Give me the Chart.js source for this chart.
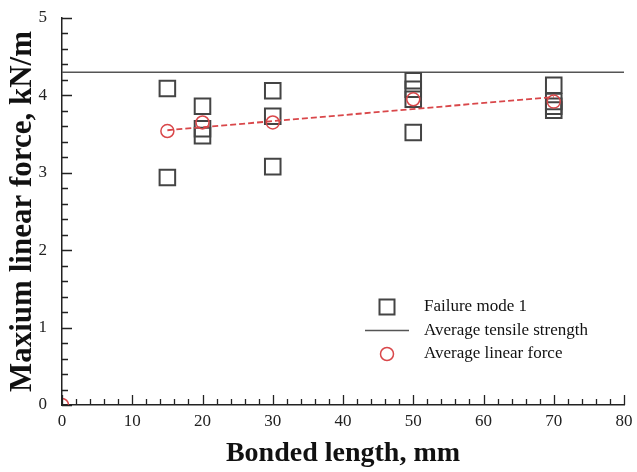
<!DOCTYPE html>
<html>
<head>
<meta charset="utf-8">
<script src="https://cdn.jsdelivr.net/npm/chart.js@4"></script>
<style>
    html, body { margin: 0; padding: 0; background: #fff; }
    #wrap { width: 637px; height: 472px; }
</style>
</head>
<body>
<div id="wrap"><canvas id="chart"></canvas></div>
<script>
// Data
const mode1X = [15, 15, 20, 20, 20, 30, 30, 30, 50, 50, 50, 50, 70, 70, 70, 70];
const mode1Y = [4.09, 2.94, 3.86, 3.57, 3.48, 4.06, 3.73, 3.08, 4.19, 4.08, 3.95, 3.52, 4.13, 3.92, 3.86, 3.81];
const avgX = [0, 15, 20, 30, 50, 70];
const avgY = [0, 3.54, 3.65, 3.65, 3.95, 3.92];
const fitX = [15, 70];
const fitY = [3.55, 3.98];
const tensileX = [0, 80];
const tensileY = [4.3, 4.3];
const xTicks = [0, 10, 20, 30, 40, 50, 60, 70, 80];
const yTicks = [0, 1, 2, 3, 4, 5];

const SERIF = "'Liberation Serif', 'Times New Roman', serif";
const RED = '#d9474a';
const DARK = '#444';

const toPoints = (xs, ys) => xs.map((x, i) => ({ x, y: ys[i] }));

// inward ticks like the original plot
const innerTicks = {
    id: 'innerTicks',
    afterDraw(chart) {
        const { ctx, chartArea, scales } = chart;
        ctx.save();
        ctx.strokeStyle = '#222';
        ctx.lineWidth = 1.3;
        ctx.beginPath();
        for (let v = 0; v <= 80; v += 2) {
            const px = Math.round(scales.x.getPixelForValue(v)) + 0.5;
            const len = v % 10 === 0 ? 10 : 6;
            ctx.moveTo(px, chartArea.bottom);
            ctx.lineTo(px, chartArea.bottom - len);
        }
        for (let i = 0; i <= 25; i++) {
            const py = Math.round(scales.y.getPixelForValue(i * 0.2)) + 0.5;
            const len = i % 5 === 0 ? 10 : 6;
            ctx.moveTo(chartArea.left, py);
            ctx.lineTo(chartArea.left + len, py);
        }
        ctx.stroke();
        ctx.restore();
    }
};

// legend drawn inside the plot, lower right
const insideLegend = {
    id: 'insideLegend',
    afterDatasetsDraw(chart) {
        const { ctx, chartArea } = chart;
        const mx = chartArea.right - 237;
        const tx = chartArea.right - 200;
        const y0 = chartArea.bottom - 98;
        const gap = 23.5;
        ctx.save();
        ctx.font = `17px ${SERIF}`;
        ctx.fillStyle = '#111';
        ctx.textBaseline = 'middle';

        // square
        ctx.strokeStyle = DARK;
        ctx.lineWidth = 2;
        ctx.beginPath();
        ctx.rect(mx - 7.5, y0 - 7.5, 15, 15);
        ctx.stroke();
        ctx.fillText(chart.data.datasets[0].label, tx, y0);

        // line
        ctx.strokeStyle = '#555';
        ctx.lineWidth = 1.5;
        ctx.beginPath();
        ctx.moveTo(mx - 22, y0 + gap);
        ctx.lineTo(mx + 22, y0 + gap);
        ctx.stroke();
        ctx.fillText(chart.data.datasets[1].label, tx, y0 + gap);

        // circle
        ctx.strokeStyle = RED;
        ctx.lineWidth = 1.5;
        ctx.beginPath();
        ctx.arc(mx, y0 + gap * 2, 6.5, 0, Math.PI * 2);
        ctx.stroke();
        ctx.fillText(chart.data.datasets[2].label, tx, y0 + gap * 2);
        ctx.restore();
    }
};

new Chart(document.getElementById('chart'), {
    type: 'scatter',
    data: {
        datasets: [
            {
                label: 'Failure mode 1',
                data: toPoints(mode1X, mode1Y),
                pointStyle: 'rect',
                pointRadius: 11,
                pointHoverRadius: 11,
                borderColor: DARK,
                borderWidth: 2,
                backgroundColor: 'transparent',
                order: 2
            },
            {
                label: 'Average tensile strength',
                type: 'line',
                data: toPoints(tensileX, tensileY),
                borderColor: '#555',
                borderWidth: 1.6,
                pointRadius: 0,
                fill: false,
                order: 3
            },
            {
                label: 'Average linear force',
                data: toPoints(avgX, avgY),
                pointStyle: 'circle',
                pointRadius: 6.5,
                pointHoverRadius: 6.5,
                borderColor: RED,
                borderWidth: 1.5,
                backgroundColor: 'transparent',
                order: 1
            },
            {
                label: 'fit',
                type: 'line',
                data: toPoints(fitX, fitY),
                borderColor: RED,
                borderWidth: 1.8,
                borderDash: [6, 3],
                pointRadius: 0,
                fill: false,
                order: 0
            }
        ]
    },
    options: {
        responsive: true,
        maintainAspectRatio: false,
        animation: false,
        events: [],
        layout: { padding: { left: 0, right: 11, top: 18, bottom: 0 } },
        plugins: {
            legend: { display: false },
            tooltip: { enabled: false }
        },
        scales: {
            x: {
                type: 'linear',
                min: 0,
                max: 80,
                afterBuildTicks: s => { s.ticks = xTicks.map(v => ({ value: v })); },
                afterFit: s => { s.height = 67; s.paddingLeft = 0; s.paddingRight = 0; },
                grid: { display: false, drawTicks: false },
                border: { display: true, color: '#222', width: 1.5 },
                ticks: { color: '#222', padding: 6, font: { family: SERIF, size: 17 } },
                title: {
                    display: true,
                    text: 'Bonded length, mm',
                    color: '#111',
                    padding: { top: 0, bottom: 1 },
                    font: { family: SERIF, size: 28, weight: 'bold' }
                }
            },
            y: {
                type: 'linear',
                min: 0,
                max: 5,
                afterBuildTicks: s => { s.ticks = yTicks.map(v => ({ value: v })); },
                afterFit: s => { s.width = 62; s.paddingTop = 0; s.paddingBottom = 0; },
                grid: { display: false, drawTicks: false },
                border: { display: true, color: '#222', width: 1.5 },
                ticks: { color: '#222', padding: 15, font: { family: SERIF, size: 17 } },
                title: {
                    display: true,
                    text: 'Maxium linear force, kN/m',
                    color: '#111',
                    padding: { top: 4, bottom: 0 },
                    font: { family: SERIF, size: 31, weight: 'bold' }
                }
            }
        }
    },
    plugins: [innerTicks, insideLegend]
});
</script>
</body>
</html>
